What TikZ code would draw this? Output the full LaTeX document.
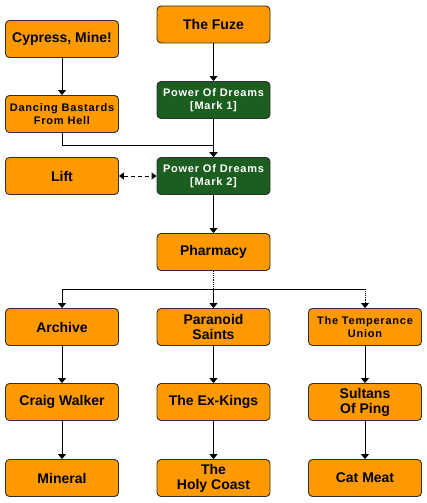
\documentclass[tikz,border=0pt]{standalone}
\usepackage{fontspec}
\setmainfont{Liberation Sans}
\newfontfamily\spacedfont[LetterSpace=7]{Liberation Sans}
\usetikzlibrary{arrows.meta}
\definecolor{boxorange}{HTML}{FF9900}
\definecolor{boxgreen}{HTML}{1B5E20}
\definecolor{boxline}{HTML}{303030}
\tikzset{
  box/.style={draw=boxline, line width=0.9pt, rounded corners=4pt, minimum width=113pt, minimum height=37pt, inner sep=1pt, align=center, fill=boxorange, text=black, font=\fontsize{14}{15}\selectfont\bfseries},
  smallbox/.style={box, font=\spacedfont\fontsize{11}{13}\selectfont\bfseries},
  greenbox/.style={smallbox, fill=boxgreen, text=white},
  arr/.style={line width=0.9pt, -{Triangle[width=8pt,length=5pt]}},
  dotseg/.style={line width=0.9pt, densely dotted},
  dasharr/.style={line width=0.9pt, dash pattern=on 4pt off 3pt, {Triangle[width=7pt,length=5pt]}-{Triangle[width=7pt,length=5pt]}},
}
\begin{document}
\begin{tikzpicture}[x=1pt, y=-1pt]
\useasboundingbox (0,0) rectangle (427,503);
% row nodes
\node[box] (fuze) at (213.5,24.5) {The Fuze};
\node[box] (cypress) at (62,39) {Cypress, Mine!};
\node[greenbox] (pod1) at (213.5,100) {Power Of Dreams\\{}[Mark 1]};
\node[smallbox] (dancing) at (62,114) {Dancing Bastards\\From Hell};
\node[box] (lift) at (62,176) {Lift};
\node[greenbox] (pod2) at (213.5,176) {Power Of Dreams\\{}[Mark 2]};
\node[box] (pharmacy) at (213.5,252) {Pharmacy};
\node[box] (archive) at (62,327) {Archive};
\node[box] (paranoid) at (213.5,327) {Paranoid\\Saints};
\node[smallbox] (temperance) at (365,327) {The Temperance\\Union};
\node[box] (craig) at (62,402) {Craig Walker};
\node[box] (exkings) at (213.5,402) {The Ex-Kings};
\node[box] (sultans) at (365,402) {Sultans\\Of Ping};
\node[box] (mineral) at (62,478) {Mineral};
\node[box] (holy) at (213.5,478) {The\\Holy Coast};
\node[box] (catmeat) at (365,478) {Cat Meat};
% junction coordinates
\coordinate (j1) at (0,145);
\coordinate (j2) at (0,289);
% connectors
\draw[arr] (cypress) -- (dancing);
\draw[arr] (fuze) -- (pod1);
\draw[arr] (pod1) -- (pod2);
\draw[arr] (dancing.south) -- (dancing.south |- j1) -| (pod2.north);
\draw[dasharr] (lift) -- (pod2);
\draw[arr] (pod2) -- (pharmacy);
\draw[dotseg] (pharmacy.south) -- (pharmacy.south |- j2);
\draw[line width=0.9pt] (archive.north |- j2) -- (temperance.north |- j2);
\draw[arr] (archive.north |- j2) -- (archive.north);
\draw[arr] (paranoid.north |- j2) -- (paranoid.north);
\draw[arr, densely dotted] (temperance.north |- j2) -- (temperance.north);
\draw[arr] (archive) -- (craig);
\draw[arr] (paranoid) -- (exkings);
\draw[arr] (temperance) -- (sultans);
\draw[arr] (craig) -- (mineral);
\draw[arr] (exkings) -- (holy);
\draw[arr] (sultans) -- (catmeat);
\end{tikzpicture}
\end{document}
